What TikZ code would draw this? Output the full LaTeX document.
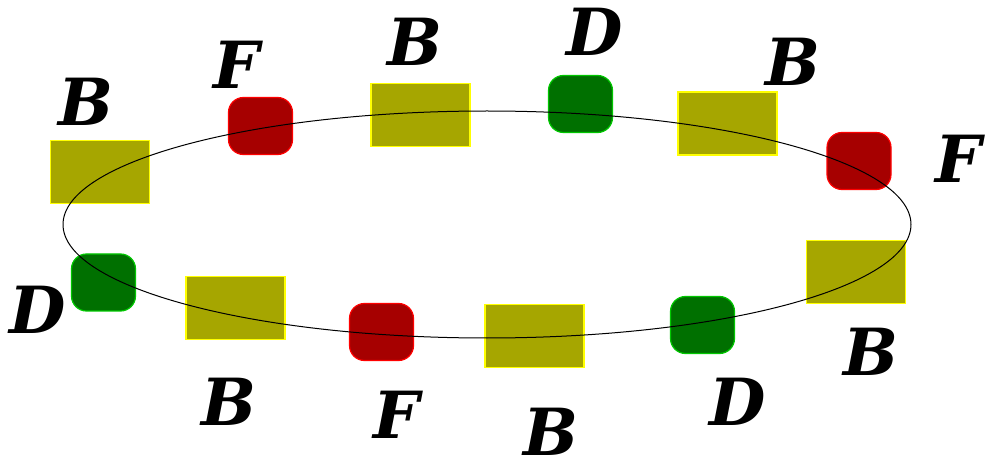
\documentclass[tikz,border=0pt]{standalone}
\usepackage{fontspec}
\usetikzlibrary{shapes.geometric}
\setmainfont{DejaVu Serif}
\definecolor{olivefill}{RGB}{166,166,0}
\definecolor{olivedraw}{RGB}{255,255,0}
\definecolor{redfill}{RGB}{166,0,0}
\definecolor{reddraw}{RGB}{255,0,0}
\definecolor{greenfill}{RGB}{0,112,0}
\definecolor{greendraw}{RGB}{0,200,0}
\tikzset{
  bbox/.style={draw=olivedraw, fill=olivefill, line width=1.2pt, minimum width=99pt, minimum height=63pt, inner sep=0pt},
  fbox/.style={draw=reddraw, fill=redfill, line width=1.2pt, rounded corners=15pt, minimum width=64pt, minimum height=57pt, inner sep=0pt},
  dbox/.style={draw=greendraw, fill=greenfill, line width=1.2pt, rounded corners=15pt, minimum width=64pt, minimum height=57pt, inner sep=0pt},
  lab/.style={font=\fontsize{65}{65}\selectfont\bfseries\itshape, inner sep=0pt},
  orbit/.style={draw, line width=1pt, ellipse, inner sep=0pt, minimum width=848pt, minimum height=227pt}
}
\begin{document}
\begin{tikzpicture}[x=1pt,y=-1pt]
\useasboundingbox (0,0) rectangle (986,457);
% B boxes
\node[bbox] (b1) at (100,172) {};
\node[bbox] (b2) at (420.5,115) {};
\node[bbox] (b3) at (727.5,123.5) {};
\node[bbox] (b4) at (856,272) {};
\node[bbox] (b5) at (534.5,336) {};
\node[bbox] (b6) at (235.5,308) {};
% F boxes
\node[fbox] (f1) at (260.5,126) {};
\node[fbox] (f2) at (859,161) {};
\node[fbox] (f3) at (381.5,332) {};
% D boxes
\node[dbox] (d1) at (580.5,104) {};
\node[dbox] (d2) at (103.5,282.5) {};
\node[dbox] (d3) at (702.5,325) {};
% ellipse
\node[orbit] (ell) at (487,224.5) {};
% labels
\node[lab] (lb1) at (86,102) {B};
\node[lab] (lb2) at (415,42) {B};
\node[lab] (lb3) at (793,62) {B};
\node[lab] (lb4) at (871,352) {B};
\node[lab] (lb5) at (551,432) {B};
\node[lab] (lb6) at (229,402) {B};
\node[lab] (lf1) at (237,65) {F};
\node[lab] (lf2) at (959,159) {F};
\node[lab] (lf3) at (397,415) {F};
\node[lab] (ld1) at (595,32) {D};
\node[lab] (ld2) at (38,310) {D};
\node[lab] (ld3) at (738,402) {D};
\end{tikzpicture}
\end{document}
